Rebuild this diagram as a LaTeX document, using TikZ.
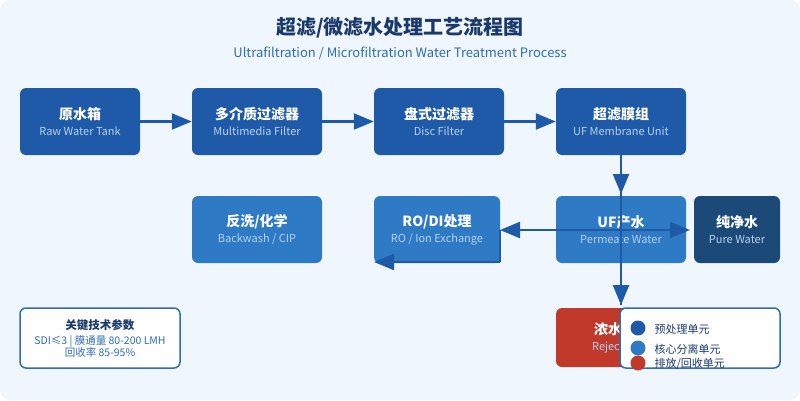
\documentclass[tikz,border=0pt]{standalone}
\usepackage{fontspec}
\setmainfont{Noto Sans CJK SC}
\usetikzlibrary{arrows.meta}
\definecolor{bg}{HTML}{F0F6FE}
\definecolor{dk}{HTML}{1F5AA8}
\definecolor{md}{HTML}{2E7AC4}
\definecolor{nv}{HTML}{1B4A78}
\definecolor{rd}{HTML}{C0392B}
\definecolor{tt}{HTML}{1B3A6B}
\definecolor{st}{HTML}{2E6DB4}
\definecolor{sub}{HTML}{B8D0EE}
\begin{document}
\begin{tikzpicture}[x=1pt,y=-1pt,
 box/.style={rounded corners=6pt,minimum height=67pt,align=center,inner sep=0pt},
 ln/.style={draw=dk,line width=2.2pt},
 ar/.style={ln,-{Triangle[length=20pt,width=16pt]}},
 t/.style={font=\fontsize{14}{16}\selectfont\bfseries,text=white},
 s/.style={font=\fontsize{11}{13}\selectfont,text=sub}]
\useasboundingbox (0,0) rectangle (800,400);
\fill[bg,rounded corners=10pt] (0,0) rectangle (800,400);
\node[font=\fontsize{20}{24}\selectfont\bfseries,text=tt] (ti) at (400,28) {超滤/微滤水处理工艺流程图};
\node[font=\fontsize{13}{15}\selectfont,text=st] (su) at (400,53) {Ultrafiltration / Microfiltration Water Treatment Process};
\newcommand{\bx}[7]{\node[box,fill=#2,minimum width=#4pt,minimum height=#5pt] (#1) at (#3) {\textcolor{white}{\fontsize{14}{16}\selectfont\bfseries #6}\\[4pt]{\fontsize{11}{13}\selectfont\color{sub}#7}};}
\bx{a}{dk}{80,121.5}{120}{67}{原水箱}{Raw Water Tank}
\bx{b}{dk}{257,121.5}{130}{67}{多介质过滤器}{Multimedia Filter}
\bx{c}{dk}{439,121.5}{130}{67}{盘式过滤器}{Disc Filter}
\bx{d}{dk}{621,121.5}{130}{67}{超滤膜组}{UF Membrane Unit}
\bx{e}{md}{257,229.5}{130}{67}{反洗/化学}{Backwash / CIP}
\bx{f}{md}{437,229.5}{126}{67}{RO/DI处理}{RO / Ion Exchange}
\bx{g}{md}{621,229.5}{130}{67}{UF产水}{Permeate Water}
\bx{h}{nv}{737,229.5}{86}{67}{纯净水}{Pure Water}
\bx{r}{rd}{608,337.5}{104}{59}{浓水}{Reject}
\node[draw=st,line width=1.5pt,fill=white,rounded corners=6pt,minimum width=160pt,minimum height=60pt,align=center,inner sep=0pt] (p) at (100,338)
 {{\fontsize{11.5}{14}\selectfont\bfseries\color{tt}关键技术参数}\\[3pt]{\fontsize{10.5}{12.5}\selectfont\color{st}SDI≤3 | 膜通量 80-200 LMH}\\{\fontsize{10.5}{12.5}\selectfont\color{st}回收率 85-95\%}};
\draw[ar] (a) -- (b);
\draw[ar] (b) -- (c);
\draw[ar] (c) -- (d);
\coordinate (v1) at (621,305);
\coordinate (v0) at (621,155);
\coordinate (vm) at (621,194);
\draw[ln] (v0) -- (v1);
\draw[ar] (v0) -- (vm);
\draw[ar] (621,230) -- (v1);
\coordinate (hl) at (500,230);
\coordinate (hr) at (690,230);
\draw[ar] (621,230) -- (hl);
\draw[ar] (621,230) -- (hr);
\coordinate (cb) at (500,262);
\coordinate (cl) at (374,262);
\draw[ln] (hl) -- (cb);
\draw[ar] (cb) -- (cl);
\node[draw=st,line width=1.5pt,fill=white,rounded corners=6pt,minimum width=160pt,minimum height=60pt,inner sep=0pt] (lg) at (700,338) {};
\fill[dk] (638,328) circle (7.5pt);
\fill[md] (638,348) circle (7.5pt);
\fill[rd] (638,363) circle (7.5pt);
\node[anchor=west,font=\fontsize{11}{13}\selectfont,text=tt] (l1) at (651,329) {预处理单元};
\node[anchor=west,font=\fontsize{11}{13}\selectfont,text=tt] (l2) at (651,349) {核心分离单元};
\node[anchor=west,font=\fontsize{11}{13}\selectfont,text=tt] (l3) at (651,364) {排放/回收单元};
\end{tikzpicture}
\end{document}
